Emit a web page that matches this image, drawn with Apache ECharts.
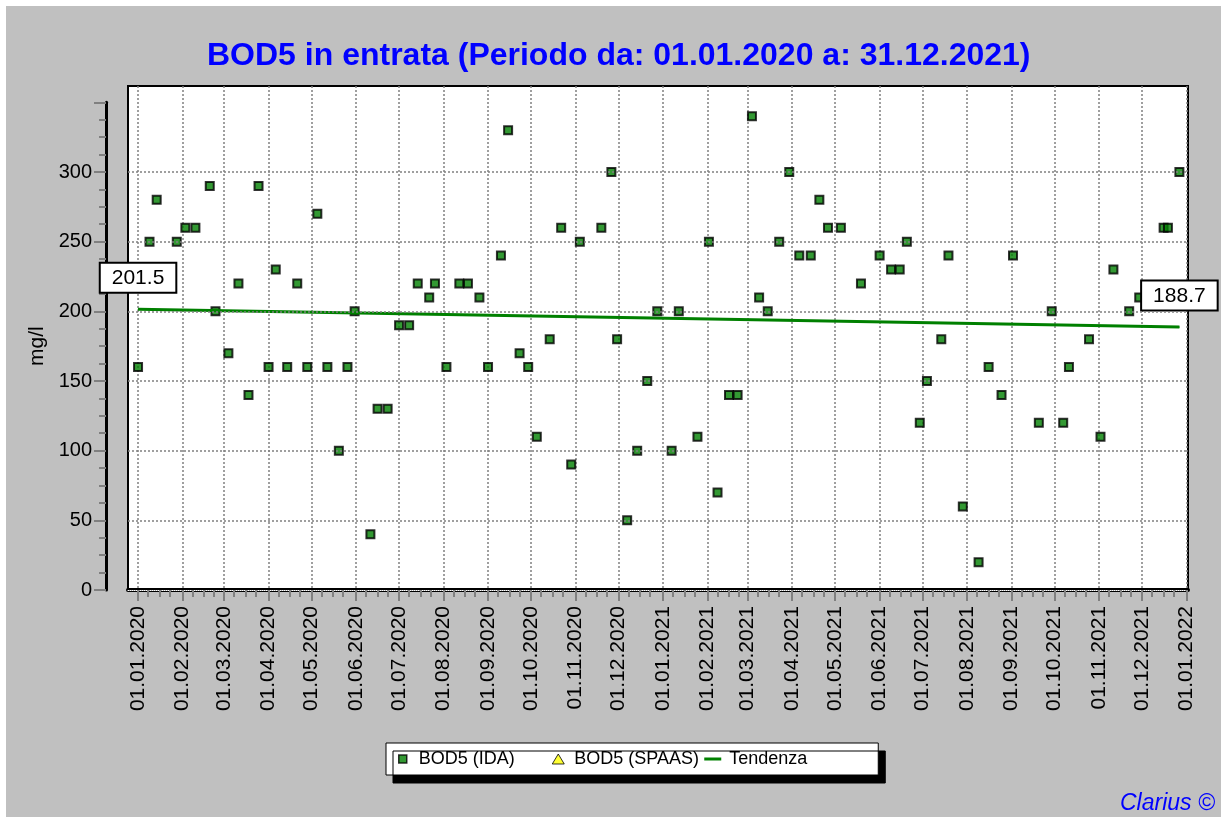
<!DOCTYPE html>
<html>
<head>
<meta charset="utf-8">
<title>BOD5 in entrata</title>
<script src="https://cdn.jsdelivr.net/npm/echarts@6/dist/echarts.min.js"></script>
<style>
  html, body { margin: 0; padding: 0; background: #fff; }
  #chart { position: absolute; left: 6px; top: 6px; width: 1215px; height: 811px; }
</style>
</head>
<body>
<div id="chart"></div>
<script>
// BOD5 (IDA) samples
const idaDates = [
  '2020-01-01', '2020-01-09', '2020-01-14', '2020-01-28', '2020-02-03', '2020-02-10', '2020-02-20', '2020-02-24',
  '2020-03-04', '2020-03-11', '2020-03-18', '2020-03-25', '2020-04-01', '2020-04-06', '2020-04-14', '2020-04-21',
  '2020-04-28', '2020-05-05', '2020-05-12', '2020-05-20', '2020-05-26', '2020-05-31', '2020-06-11', '2020-06-16',
  '2020-06-23', '2020-07-01', '2020-07-08', '2020-07-14', '2020-07-22', '2020-07-26', '2020-08-03', '2020-08-12',
  '2020-08-18', '2020-08-26', '2020-09-01', '2020-09-10', '2020-09-15', '2020-09-23', '2020-09-29', '2020-10-05',
  '2020-10-14', '2020-10-22', '2020-10-29', '2020-11-04', '2020-11-19', '2020-11-26', '2020-11-30', '2020-12-07',
  '2020-12-14', '2020-12-21', '2020-12-28',
  '2021-01-07', '2021-01-12', '2021-01-25', '2021-02-02', '2021-02-08', '2021-02-16', '2021-02-22', '2021-03-04',
  '2021-03-09', '2021-03-15', '2021-03-23', '2021-03-30', '2021-04-06', '2021-04-14', '2021-04-20', '2021-04-26',
  '2021-05-05', '2021-05-19', '2021-06-01', '2021-06-09', '2021-06-15', '2021-06-20', '2021-06-29', '2021-07-04',
  '2021-07-14', '2021-07-19', '2021-07-29', '2021-08-09', '2021-08-16', '2021-08-25', '2021-09-02', '2021-09-20',
  '2021-09-29', '2021-10-07', '2021-10-11', '2021-10-25', '2021-11-02', '2021-11-11', '2021-11-22', '2021-11-29',
  '2021-12-16', '2021-12-19', '2021-12-27'
];
const idaValues = [
  160, 250, 280, 250, 260, 260, 290, 200,
  170, 220, 140, 290, 160, 230, 160, 220,
  160, 270, 160, 100, 160, 200, 40, 130,
  130, 190, 190, 220, 210, 220, 160, 220,
  220, 210, 160, 240, 330, 170, 160, 110,
  180, 260, 90, 250, 260, 300, 180, 50,
  100, 150, 200,
  100, 200, 110, 250, 70, 140, 140, 340,
  210, 200, 250, 300, 240, 240, 280, 260,
  260, 220, 240, 230, 230, 250, 120, 150,
  180, 240, 60, 20, 160, 140, 240, 120,
  200, 120, 160, 180, 110, 230, 200, 210,
  260, 260, 300
];

// no SPAAS samples in this period
const spaasDates = [];
const spaasValues = [];

// trend line end points (labelled on the chart)
const trendDates = ['2020-01-01', '2021-12-27'];
const trendValues = [201.5, 188.7];

const yTicks = [0, 50, 100, 150, 200, 250, 300];
const axisStart = '2019-12-25';
const axisEnd = '2022-01-02';

const FONT = '"Liberation Sans", Arial, sans-serif';

// one category per day so months get their real width
const days = [];
for (let t = Date.parse(axisStart); t <= Date.parse(axisEnd); t += 864e5) {
  days.push(new Date(t).toISOString().slice(0, 10));
}
const isMonthStart = (i, v) => v.slice(8) === '01';
const isMinorTick = (i, v) => ['08', '16', '23'].indexOf(v.slice(8)) >= 0;
const fmtDate = v => v.slice(8) + '.' + v.slice(5, 7) + '.' + v.slice(0, 4);

const zip = (xs, ys) => xs.map((x, i) => [x, ys[i]]);

const chart = echarts.init(document.getElementById('chart'));

const option = {
  animation: false,
  backgroundColor: '#c0c0c0',
  title: {
    text: 'BOD5 in entrata (Periodo da: 01.01.2020 a: 31.12.2021)',
    left: 196,
    top: 29,
    textStyle: { color: '#0000ff', fontSize: 32, fontWeight: 'bold', fontFamily: FONT }
  },
  legend: {
    left: 380,
    top: 737,
    itemWidth: 22,
    itemHeight: 12,
    itemGap: 0,
    padding: [6, 21, 6, 5],
    backgroundColor: '#fff',
    borderColor: '#000',
    borderWidth: 1,
    shadowColor: '#000',
    shadowBlur: 0,
    shadowOffsetX: 7,
    shadowOffsetY: 8,
    textStyle: { fontFamily: FONT, fontSize: 18, color: '#000', width: 128, lineHeight: 20 },
    data: [
      { name: 'BOD5 (IDA)', icon: 'path://M0,0M22,12M7,2h8v8h-8z', itemStyle: { borderWidth: 1.5, borderColor: '#000' } },
      { name: 'BOD5 (SPAAS)', icon: 'path://M0,0M22,12M11,1L17,11L5,11z', itemStyle: { borderWidth: 1, borderColor: '#000' } },
      { name: 'Tendenza', icon: 'path://M0,0M22,12M2,4.5h17v3h-17z', itemStyle: { borderWidth: 0 } }
    ]
  },
  graphic: [
    {
      type: 'text',
      x: 1114,
      y: 809,
      style: {
        text: 'Clarius ©',
        textVerticalAlign: 'bottom',
        font: 'italic 23px "Liberation Sans", Arial, sans-serif',
        fill: '#0000ff'
      }
    }
  ],
  grid: [
    {
      left: 122, right: 33, top: 80, bottom: 227,
      show: true, backgroundColor: '#fff', borderColor: '#000', borderWidth: 2,
      containLabel: false, outerBoundsMode: 'none'
    },
    {
      left: 122, right: 33, top: 96.33, bottom: 227,
      show: false, containLabel: false, outerBoundsMode: 'none'
    }
  ],
  xAxis: [
    {
      gridIndex: 0,
      type: 'category',
      data: days,
      boundaryGap: false,
      position: 'bottom',
      axisLine: { show: true, onZero: false, lineStyle: { color: '#000', width: 4 } },
      axisTick: { show: true, interval: isMonthStart, length: 11, lineStyle: { color: '#808080', width: 2 } },
      axisLabel: {
        show: true, interval: isMonthStart, rotate: 90, margin: 16,
        fontFamily: FONT, fontSize: 21, color: '#000', formatter: fmtDate
      },
      splitLine: { show: true, interval: isMonthStart, lineStyle: { color: '#808080', type: [2, 2], width: 1.5 } }
    },
    {
      gridIndex: 0,
      type: 'category',
      data: days,
      boundaryGap: false,
      position: 'bottom',
      axisLine: { show: true, onZero: false, lineStyle: { color: '#fff', width: 1, type: [1, 1] } },
      axisTick: { show: true, interval: isMinorTick, length: 7, lineStyle: { color: '#808080', width: 2 } },
      axisLabel: { show: false },
      splitLine: { show: false }
    },
    { gridIndex: 1, type: 'value', show: false, min: 0, max: 1 }
  ],
  yAxis: [
    { gridIndex: 0, type: 'value', min: 0, max: 361.72, show: false },
    {
      gridIndex: 1,
      type: 'value',
      min: 0,
      max: 350,
      interval: 50,
      offset: 22,
      name: 'mg/l',
      nameLocation: 'middle',
      nameGap: 57,
      nameTextStyle: { fontFamily: FONT, fontSize: 21, color: '#000' },
      axisLine: { show: true, onZero: false, lineStyle: { color: '#000', width: 3 } },
      axisTick: { show: true, length: 12, lineStyle: { color: '#808080', width: 2 } },
      minorTick: { show: true, splitNumber: 4, length: 7, lineStyle: { color: '#808080', width: 2 } },
      axisLabel: {
        margin: 14, fontFamily: FONT, fontSize: 20, color: '#000',
        formatter: v => (yTicks.indexOf(v) >= 0 ? String(v) : '')
      },
      splitLine: { show: false }
    }
  ],
  series: [
    {
      name: 'BOD5 (SPAAS)',
      type: 'scatter',
      xAxisIndex: 0,
      yAxisIndex: 0,
      z: 1,
      symbol: 'triangle',
      symbolSize: 10,
      itemStyle: { color: '#ffff00', borderColor: '#000', borderWidth: 1 },
      data: zip(spaasDates, spaasValues),
      markLine: {
        silent: true,
        symbol: 'none',
        label: { show: false },
        lineStyle: { color: '#808080', type: [2, 2], width: 1.5 },
        data: yTicks.filter(v => v > 0).map(v => ({ yAxis: v }))
      }
    },
    {
      name: 'BOD5 (IDA)',
      type: 'scatter',
      xAxisIndex: 0,
      yAxisIndex: 0,
      z: 3,
      symbol: 'rect',
      symbolSize: 8,
      itemStyle: { color: '#008000', borderColor: '#000', borderWidth: 2 },
      data: zip(idaDates, idaValues)
    },
    {
      name: 'Tendenza',
      type: 'line',
      xAxisIndex: 0,
      yAxisIndex: 0,
      z: 4,
      symbol: 'circle',
      symbolSize: 1,
      showSymbol: true,
      showAllSymbol: true,
      lineStyle: { color: '#008000', width: 3 },
      itemStyle: { color: '#008000' },
      label: {
        show: true,
        position: 'top',
        distance: 17,
        formatter: p => p.value[1].toFixed(1),
        fontFamily: FONT,
        fontSize: 21,
        color: '#000',
        backgroundColor: '#fff',
        borderColor: '#000',
        borderWidth: 2,
        padding: [4, 11, 3, 11]
      },
      labelLayout: { hideOverlap: false },
      data: zip(trendDates, trendValues)
    }
  ]
};

chart.setOption(option);
window.addEventListener('resize', () => chart.resize());
</script>
</body>
</html>
